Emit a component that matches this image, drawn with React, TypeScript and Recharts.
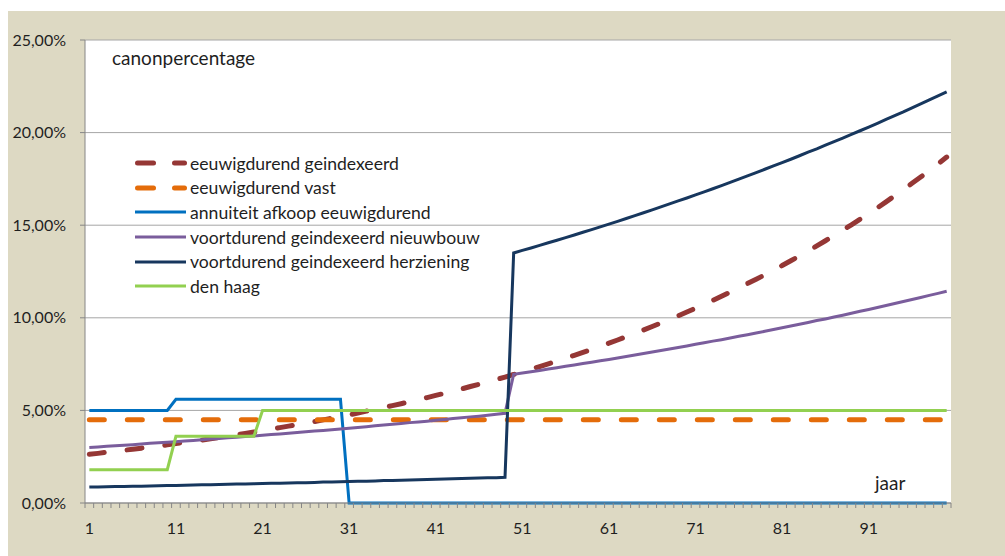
import React from 'react';
import { ComposedChart, Line, XAxis, YAxis, CartesianGrid, Legend } from 'recharts';

const years = [
  1, 2, 3, 4, 5, 6, 7, 8, 9, 10,
  11, 12, 13, 14, 15, 16, 17, 18, 19, 20,
  21, 22, 23, 24, 25, 26, 27, 28, 29, 30,
  31, 32, 33, 34, 35, 36, 37, 38, 39, 40,
  41, 42, 43, 44, 45, 46, 47, 48, 49, 50,
  51, 52, 53, 54, 55, 56, 57, 58, 59, 60,
  61, 62, 63, 64, 65, 66, 67, 68, 69, 70,
  71, 72, 73, 74, 75, 76, 77, 78, 79, 80,
  81, 82, 83, 84, 85, 86, 87, 88, 89, 90,
  91, 92, 93, 94, 95, 96, 97, 98, 99, 100,
];

const xTickLabels = [1, 11, 21, 31, 41, 51, 61, 71, 81, 91];
const yTicks = [0, 5, 10, 15, 20, 25];

const eeuwigdurendGeindexeerd = [
  2.63, 2.68, 2.74, 2.79, 2.85, 2.9, 2.96, 3.02, 3.08, 3.14,
  3.21, 3.27, 3.34, 3.4, 3.47, 3.54, 3.61, 3.68, 3.76, 3.83,
  3.91, 3.99, 4.07, 4.15, 4.23, 4.31, 4.4, 4.49, 4.58, 4.67,
  4.76, 4.86, 4.96, 5.06, 5.16, 5.26, 5.36, 5.47, 5.58, 5.69,
  5.81, 5.92, 6.04, 6.16, 6.29, 6.41, 6.54, 6.67, 6.8, 6.94,
  7.08, 7.22, 7.37, 7.51, 7.66, 7.82, 7.97, 8.13, 8.29, 8.46,
  8.63, 8.8, 8.98, 9.16, 9.34, 9.53, 9.72, 9.91, 10.11, 10.31,
  10.52, 10.73, 10.94, 11.16, 11.39, 11.61, 11.85, 12.08, 12.32, 12.57,
  12.82, 13.08, 13.34, 13.61, 13.88, 14.16, 14.44, 14.73, 15.02, 15.32,
  15.63, 15.94, 16.26, 16.59, 16.92, 17.26, 17.6, 17.95, 18.31, 18.68,
];

const eeuwigdurendVast = [
  4.5, 4.5, 4.5, 4.5, 4.5, 4.5, 4.5, 4.5, 4.5, 4.5,
  4.5, 4.5, 4.5, 4.5, 4.5, 4.5, 4.5, 4.5, 4.5, 4.5,
  4.5, 4.5, 4.5, 4.5, 4.5, 4.5, 4.5, 4.5, 4.5, 4.5,
  4.5, 4.5, 4.5, 4.5, 4.5, 4.5, 4.5, 4.5, 4.5, 4.5,
  4.5, 4.5, 4.5, 4.5, 4.5, 4.5, 4.5, 4.5, 4.5, 4.5,
  4.5, 4.5, 4.5, 4.5, 4.5, 4.5, 4.5, 4.5, 4.5, 4.5,
  4.5, 4.5, 4.5, 4.5, 4.5, 4.5, 4.5, 4.5, 4.5, 4.5,
  4.5, 4.5, 4.5, 4.5, 4.5, 4.5, 4.5, 4.5, 4.5, 4.5,
  4.5, 4.5, 4.5, 4.5, 4.5, 4.5, 4.5, 4.5, 4.5, 4.5,
  4.5, 4.5, 4.5, 4.5, 4.5, 4.5, 4.5, 4.5, 4.5, 4.5,
];

const annuiteitAfkoop = [
  5.0, 5.0, 5.0, 5.0, 5.0, 5.0, 5.0, 5.0, 5.0, 5.0,
  5.6, 5.6, 5.6, 5.6, 5.6, 5.6, 5.6, 5.6, 5.6, 5.6,
  5.6, 5.6, 5.6, 5.6, 5.6, 5.6, 5.6, 5.6, 5.6, 5.6,
  0, 0, 0, 0, 0, 0, 0, 0, 0, 0,
  0, 0, 0, 0, 0, 0, 0, 0, 0, 0,
  0, 0, 0, 0, 0, 0, 0, 0, 0, 0,
  0, 0, 0, 0, 0, 0, 0, 0, 0, 0,
  0, 0, 0, 0, 0, 0, 0, 0, 0, 0,
  0, 0, 0, 0, 0, 0, 0, 0, 0, 0,
  0, 0, 0, 0, 0, 0, 0, 0, 0, 0,
];

const voortdurendNieuwbouw = [
  3.0, 3.03, 3.06, 3.09, 3.12, 3.15, 3.18, 3.22, 3.25, 3.28,
  3.31, 3.35, 3.38, 3.41, 3.45, 3.48, 3.52, 3.55, 3.59, 3.62,
  3.66, 3.7, 3.73, 3.77, 3.81, 3.85, 3.89, 3.92, 3.96, 4.0,
  4.04, 4.08, 4.12, 4.17, 4.21, 4.25, 4.29, 4.34, 4.38, 4.42,
  4.47, 4.51, 4.56, 4.6, 4.65, 4.69, 4.74, 4.79, 4.84, 6.95,
  7.02, 7.09, 7.16, 7.23, 7.3, 7.38, 7.45, 7.53, 7.6, 7.68,
  7.75, 7.83, 7.91, 7.99, 8.07, 8.15, 8.23, 8.31, 8.4, 8.48,
  8.57, 8.65, 8.74, 8.82, 8.91, 9.0, 9.09, 9.18, 9.27, 9.37,
  9.46, 9.56, 9.65, 9.75, 9.85, 9.94, 10.04, 10.14, 10.25, 10.35,
  10.45, 10.56, 10.66, 10.77, 10.88, 10.99, 11.1, 11.21, 11.32, 11.43,
];

const voortdurendHerziening = [
  0.86, 0.87, 0.88, 0.89, 0.89, 0.9, 0.91, 0.92, 0.93, 0.94,
  0.95, 0.96, 0.97, 0.98, 0.99, 1.0, 1.01, 1.02, 1.03, 1.04,
  1.05, 1.06, 1.07, 1.08, 1.09, 1.1, 1.11, 1.13, 1.14, 1.15,
  1.16, 1.17, 1.18, 1.19, 1.21, 1.22, 1.23, 1.24, 1.26, 1.27,
  1.28, 1.29, 1.31, 1.32, 1.33, 1.35, 1.36, 1.37, 1.39, 13.5,
  13.64, 13.77, 13.91, 14.05, 14.19, 14.33, 14.47, 14.62, 14.76, 14.91,
  15.06, 15.21, 15.36, 15.52, 15.67, 15.83, 15.99, 16.15, 16.31, 16.47,
  16.64, 16.8, 16.97, 17.14, 17.31, 17.49, 17.66, 17.84, 18.02, 18.2,
  18.38, 18.56, 18.75, 18.94, 19.12, 19.32, 19.51, 19.7, 19.9, 20.1,
  20.3, 20.5, 20.71, 20.92, 21.12, 21.34, 21.55, 21.77, 21.98, 22.2,
];

const denHaag = [
  1.8, 1.8, 1.8, 1.8, 1.8, 1.8, 1.8, 1.8, 1.8, 1.8,
  3.6, 3.6, 3.6, 3.6, 3.6, 3.6, 3.6, 3.6, 3.6, 3.6,
  5.0, 5.0, 5.0, 5.0, 5.0, 5.0, 5.0, 5.0, 5.0, 5.0,
  5.0, 5.0, 5.0, 5.0, 5.0, 5.0, 5.0, 5.0, 5.0, 5.0,
  5.0, 5.0, 5.0, 5.0, 5.0, 5.0, 5.0, 5.0, 5.0, 5.0,
  5.0, 5.0, 5.0, 5.0, 5.0, 5.0, 5.0, 5.0, 5.0, 5.0,
  5.0, 5.0, 5.0, 5.0, 5.0, 5.0, 5.0, 5.0, 5.0, 5.0,
  5.0, 5.0, 5.0, 5.0, 5.0, 5.0, 5.0, 5.0, 5.0, 5.0,
  5.0, 5.0, 5.0, 5.0, 5.0, 5.0, 5.0, 5.0, 5.0, 5.0,
  5.0, 5.0, 5.0, 5.0, 5.0, 5.0, 5.0, 5.0, 5.0, 5.0,
];

const SERIES = [
  { key: 'eg', name: 'eeuwigdurend geindexeerd', color: '#953735', dashed: true, values: eeuwigdurendGeindexeerd },
  { key: 'ev', name: 'eeuwigdurend vast', color: '#e46c0a', dashed: true, values: eeuwigdurendVast },
  { key: 'an', name: 'annuiteit afkoop eeuwigdurend', color: '#0070c0', dashed: false, values: annuiteitAfkoop },
  { key: 'nb', name: 'voortdurend geindexeerd nieuwbouw', color: '#7a5d9c', dashed: false, values: voortdurendNieuwbouw },
  { key: 'hz', name: 'voortdurend geindexeerd herziening', color: '#17375e', dashed: false, values: voortdurendHerziening },
  { key: 'dh', name: 'den haag', color: '#92d050', dashed: false, values: denHaag },
];

const data = years.map((year, i) => {
  const row: Record<string, number> = { year };
  SERIES.forEach((s) => {
    row[s.key] = s.values[i];
  });
  return row;
});

const W = 997;
const H = 545;
const M = { top: 29, right: 54, left: 0, bottom: 0 };
const Y_AXIS_W = 77;
const X_AXIS_H = 53;
const PLOT_W = W - M.left - M.right - Y_AXIS_W;
const HALF_BAND = PLOT_W / years.length / 2;
const FONT = 'Lato, "Open Sans", sans-serif';
const TEXT = '#1f1f1f';
const AXIS = '#868686';
const TICK_SIZE = 5;
const X_TICK_MARGIN = 15;

const XTick = (props: any) => {
  const { x, y, payload, index } = props;
  const axisY = y - TICK_SIZE - X_TICK_MARGIN;
  const show = xTickLabels.includes(payload.value);
  return (
    <g>
      <line x1={x - HALF_BAND} x2={x - HALF_BAND} y1={axisY} y2={axisY + TICK_SIZE} stroke={AXIS} strokeWidth={1} />
      {index === years.length - 1 && (
        <line x1={x + HALF_BAND} x2={x + HALF_BAND} y1={axisY} y2={axisY + TICK_SIZE} stroke={AXIS} strokeWidth={1} />
      )}
      {show && (
        <text x={x} y={y} dy="0.71em" textAnchor="middle" fill={TEXT} fontSize={16} fontFamily={FONT}>
          {payload.value}
        </text>
      )}
    </g>
  );
};

const LegendContent = () => (
  <div style={{ fontFamily: FONT, fontSize: 17.6, color: TEXT, textAlign: 'left' }}>
    {SERIES.map((s) => (
      <div key={s.key} style={{ height: 24.6, display: 'flex', alignItems: 'center', whiteSpace: 'nowrap' }}>
        <svg width={55} height={24} style={{ flex: '0 0 auto' }}>
          {s.dashed ? (
            <g stroke={s.color} strokeWidth={5} strokeLinecap="round">
              <line x1={2.5} x2={18.5} y1={12} y2={12} />
              <line x1={39.5} x2={49.5} y1={12} y2={12} />
            </g>
          ) : (
            <line x1={0} x2={51} y1={12} y2={12} stroke={s.color} strokeWidth={3} />
          )}
        </svg>
        <span>{s.name}</span>
      </div>
    ))}
  </div>
);

const fmtPct = (v: number) => v.toFixed(2).replace('.', ',') + '%';

export default function App() {
  return (
    <div style={{ position: 'absolute', left: 8, top: 11, width: W, height: H, background: '#ddd9c3' }}>
      <ComposedChart width={W} height={H} data={data} margin={M}>
        <CartesianGrid vertical={false} stroke="#a6a6a6" fill="#ffffff" />
        <XAxis
          dataKey="year"
          interval={0}
          height={X_AXIS_H}
          padding={{ left: HALF_BAND, right: HALF_BAND }}
          axisLine={{ stroke: AXIS }}
          tickLine={false}
          tickSize={TICK_SIZE}
          tickMargin={X_TICK_MARGIN}
          tick={<XTick />}
        />
        <YAxis
          width={Y_AXIS_W}
          domain={[0, 25]}
          ticks={yTicks}
          tickFormatter={fmtPct}
          axisLine={{ stroke: AXIS }}
          tickLine={{ stroke: AXIS }}
          tickSize={TICK_SIZE}
          tickMargin={14}
          tick={{ fill: TEXT, fontSize: 16, fontFamily: FONT }}
        />
        <Legend
          layout="horizontal"
          align="center"
          verticalAlign="middle"
          content={<LegendContent />}
          wrapperStyle={{ position: 'absolute', left: 127, top: 140, width: 440, height: 150 }}
        />
        {SERIES.map((s) => (
          <Line
            key={s.key}
            type="linear"
            dataKey={s.key}
            name={s.name}
            stroke={s.color}
            strokeWidth={s.dashed ? 5 : 3}
            strokeDasharray={s.dashed ? '15 23' : undefined}
            strokeLinecap={s.dashed ? 'round' : 'butt'}
            dot={false}
            activeDot={false}
            isAnimationActive={false}
          />
        ))}
      </ComposedChart>
      <div style={{ position: 'absolute', left: 104, top: 37, fontFamily: FONT, fontSize: 19, lineHeight: 1, color: TEXT }}>
        canonpercentage
      </div>
      <div style={{ position: 'absolute', left: 867, top: 462, fontFamily: FONT, fontSize: 19, lineHeight: 1, color: TEXT }}>
        jaar
      </div>
    </div>
  );
}
